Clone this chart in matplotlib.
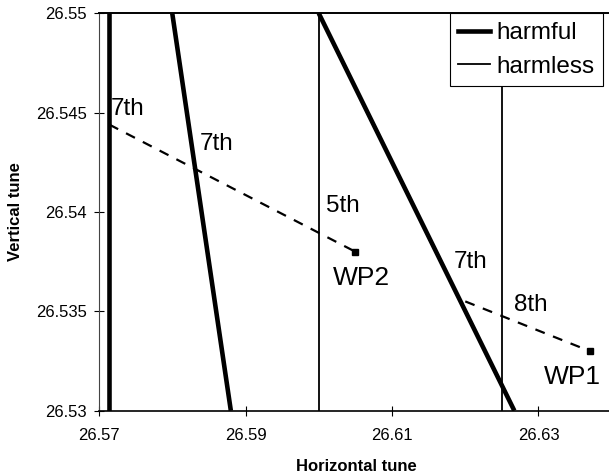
import matplotlib
matplotlib.use("Agg")
import matplotlib.pyplot as plt
from matplotlib.lines import Line2D

plt.rcParams['font.family'] = ['Liberation Sans', 'DejaVu Sans']

# ---- data ----
y_ends = [26.53, 26.55]
harmful_x = [
    [26.5714, 26.5714],   # 7th (7Qx = 186)
    [26.5880, 26.5800],   # 7th (5Qx + 2Qy = 186)
    [26.6267, 26.6000],   # 7th (3Qx + 4Qy = 186)
]
harmless_x = [
    [26.600, 26.600],     # 5th
    [26.625, 26.625],     # 8th
]
path1_x = [26.5714, 26.605]
path1_y = [26.5444, 26.538]
path2_x = [26.620, 26.637]
path2_y = [26.5355, 26.533]
wp_names = ["WP1", "WP2"]
wp_x = [26.637, 26.605]
wp_y = [26.533, 26.538]
order_labels = ["7th", "7th", "5th", "7th", "8th"]
order_lx = [26.5716, 26.5838, 26.6010, 26.6184, 26.6267]
order_ly = [26.5452, 26.5434, 26.5403, 26.5375, 26.5353]
wp_lx = [26.6346, 26.6058]
wp_ly = [26.5317, 26.5367]
xticks = [26.57, 26.59, 26.61, 26.63]
yticks = [26.53, 26.535, 26.54, 26.545, 26.55]
ytick_labels = ["26.53", "26.535", "26.54", "26.545", "26.55"]

W, H = 609, 475
L, B, T = 99.0, 410.7, 13.3
AW = 512.75
AH = B - T
fig = plt.figure(figsize=(W / 100, H / 100), dpi=100)
ax = fig.add_axes([L / W, 1 - B / H, AW / W, AH / H])

for xs in harmful_x:
    ax.plot(xs, y_ends, color='black', lw=3.3, solid_capstyle='butt', zorder=3)
for xs in harmless_x:
    ax.plot(xs, y_ends, color='black', lw=1.3, solid_capstyle='butt', zorder=3)

ax.plot(path1_x, path1_y, color='black', lw=1.6, dashes=(4.5, 4), zorder=3)
ax.plot(path2_x, path2_y, color='black', lw=1.6, dashes=(4.5, 4), zorder=3)
ax.plot(wp_x, wp_y, 's', color='black', ms=5, zorder=4, ls='none')

for t, x, y in zip(order_labels, order_lx, order_ly):
    ax.text(x, y, t, fontsize=17.5, ha='left', va='center', zorder=5)
for t, x, y in zip(wp_names, wp_lx, wp_ly):
    ax.text(x, y, t, fontsize=19, ha='center', va='center', zorder=5)

ax.set_xlim(26.57, 26.64)
ax.set_ylim(26.53, 26.55)
ax.set_xticks(xticks)
ax.set_xticklabels([f"{v:.2f}" for v in xticks])
ax.set_yticks(yticks)
ax.set_yticklabels(ytick_labels)
ax.tick_params(axis='both', direction='inout', length=7.5, width=0.8,
               labelsize=12, colors='black')
ax.tick_params(axis='x', pad=8.5)
ax.tick_params(axis='y', pad=5)

ax.spines['right'].set_visible(False)
ax.spines['top'].set_linewidth(1.4)
ax.spines['bottom'].set_linewidth(1.2)
ax.spines['left'].set_linewidth(0.8)
ax.spines['left'].set_color('#444444')

ax.set_xlabel("Horizontal tune", fontsize=12, fontweight='bold')
ax.set_ylabel("Vertical tune", fontsize=12, fontweight='bold')
ax.xaxis.set_label_coords((356 - L) / AW, (B - 459) / AH)
ax.yaxis.set_label_coords((23 - L) / AW, (B - 212) / AH)

handles = [Line2D([], [], color='black', lw=3.3),
           Line2D([], [], color='black', lw=1.3)]
leg = fig.legend(handles, ["harmful", "harmless"], loc='upper right',
                 bbox_to_anchor=(603 / W, 1 - T / H), bbox_transform=fig.transFigure,
                 fontsize=17.5, frameon=True, fancybox=False, framealpha=1,
                 edgecolor='black', borderaxespad=0, borderpad=0.36,
                 labelspacing=0.47, handlelength=1.3, handletextpad=0.25)
leg.get_frame().set_linewidth(0.8)

fig.savefig("out.png", dpi=100)
